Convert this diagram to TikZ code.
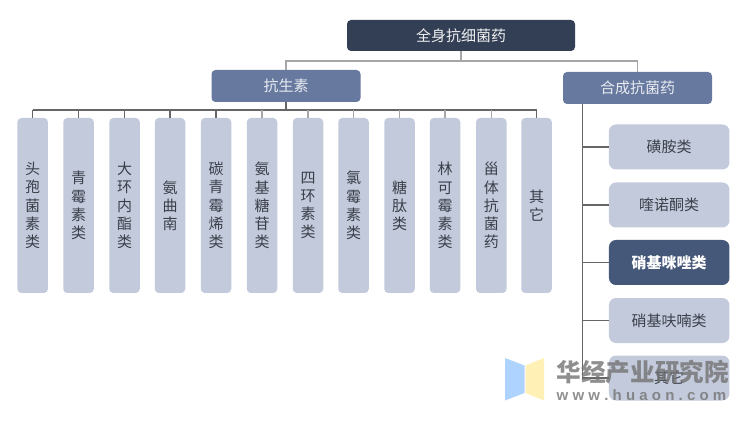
\documentclass[tikz,border=0pt]{standalone}
\usepackage{fontspec}
\setmainfont{Noto Sans CJK SC}
\newfontfamily\wmfont{Liberation Sans}
\definecolor{cTop}{HTML}{333F55}
\definecolor{cMid}{HTML}{67799F}
\definecolor{cLeaf}{HTML}{C3CADB}
\definecolor{cHi}{HTML}{46587A}
\definecolor{cTxt}{HTML}{3A3F4A}
\definecolor{cLite}{HTML}{A6A6A6}
\definecolor{cDark}{HTML}{666666}
\definecolor{cWmB}{HTML}{AFD3FF}
\definecolor{cWmY}{HTML}{FFF1B5}
\tikzset{
  topbox/.style={fill=cTop,text=white!92!cTop,rounded corners=4pt,minimum width=228pt,minimum height=31pt,inner sep=0pt,font=\fontsize{15}{18}\selectfont},
  midbox/.style={fill=cMid,text=white!85!cMid,rounded corners=4pt,minimum width=149pt,minimum height=32pt,inner sep=0pt,font=\fontsize{15}{18}\selectfont},
  leafbox/.style={fill=cLeaf,text=cTxt,rounded corners=4pt,minimum width=30.5pt,minimum height=175pt,inner sep=0pt,align=center,font=\fontsize{15}{18.2}\selectfont},
  sidebox/.style={fill=cLeaf,text=cTxt,rounded corners=7pt,minimum width=120.5pt,minimum height=45pt,inner sep=0pt,font=\fontsize{15}{18}\selectfont},
  hibox/.style={sidebox,fill=cHi,text=white,font=\fontsize{15}{18}\selectfont\bfseries},
  lite/.style={draw=cLite,line width=1.1pt},
  dark/.style={draw=cDark,line width=1.1pt},
  wm/.style={text=black!55,text opacity=.8,inner sep=0pt,anchor=west}
}
\newcommand{\wg}{\hspace{4.2pt}}
\begin{document}
\begin{tikzpicture}[x=1pt,y=-1pt]
\useasboundingbox (0,0) rectangle (750,422);
\node[topbox] (root) at (461,35.5) {全身抗细菌药};
\node[midbox] (anti) at (286,86) {抗生素};
\node[midbox] (syn) at (637.5,88) {合成抗菌药};
\node[leafbox] (l1) at (32.7,205.5) {头\\孢\\菌\\素\\类};
\node[leafbox] (l2) at (78.5,205.5) {青\\霉\\素\\类};
\node[leafbox] (l3) at (124.5,205.5) {大\\环\\内\\酯\\类};
\node[leafbox] (l4) at (170,205.5) {氨\\曲\\南};
\node[leafbox] (l5) at (216,205.5) {碳\\青\\霉\\烯\\类};
\node[leafbox] (l6) at (262,205.5) {氨\\基\\糖\\苷\\类};
\node[leafbox] (l7) at (308,205.5) {四\\环\\素\\类};
\node[leafbox] (l8) at (353.5,205.5) {氯\\霉\\素\\类};
\node[leafbox] (l9) at (399.5,205.5) {糖\\肽\\类};
\node[leafbox] (l10) at (445,205.5) {林\\可\\霉\\素\\类};
\node[leafbox] (l11) at (491.3,205.5) {甾\\体\\抗\\菌\\药};
\node[leafbox] (l12) at (536.5,205.5) {其\\它};
\node[sidebox] (s1) at (669.2,147) {磺胺类};
\node[sidebox] (s2) at (669.2,205) {喹诺酮类};
\node[hibox] (s3) at (669.2,262.5) {硝基咪唑类};
\node[sidebox] (s4) at (669.2,320.5) {硝基呋喃类};
\node[sidebox] (s5) at (669.2,378) {其它};
% connectors
\coordinate (rootbus) at (461,61);
\coordinate (bus) at (286,110);
\coordinate (trunktop) at (582.3,104);
\draw[lite] (root.south) -- (rootbus);
\draw[lite] (anti.north) -- (anti.north|-rootbus) -- (syn.north|-rootbus) -- (syn.north);
\draw[dark] (anti.south) -- (bus);
\draw[dark] (l1.north|-bus) -- (l12.north|-bus);
\foreach \n in {1,...,5} {\draw[dark] (l\n.north) -- (l\n.north|-bus);}
\foreach \n in {6,...,11} {\draw[lite] (l\n.north) -- (l\n.north|-bus);}
\draw[dark] (l12.north) -- (l12.north|-bus);
\draw[dark] (trunktop) -- (trunktop|-s5.west);
\foreach \n in {1,...,5} {\draw[dark] (trunktop|-s\n.west) -- (s\n.west);}
% watermark
\fill[cWmB] (505,358) -- (524.5,365.5) -- (524.5,393) -- (505,400.5) -- cycle;
\fill[cWmY] (525.5,365.5) -- (544,358) -- (544,400.5) -- (525.5,393) -- cycle;
\node[wm,font=\fontsize{24.6}{26}\selectfont\bfseries] (wm1) at (556.5,372) {华经产业研究院};
\node[wm,font=\fontsize{15}{16}\wmfont\bfseries] (wm2) at (556.5,395) {w\wg w\wg w\wg .\wg h\wg u\wg a\wg o\wg n\wg .\wg c\wg o\wg m};
\end{tikzpicture}
\end{document}
